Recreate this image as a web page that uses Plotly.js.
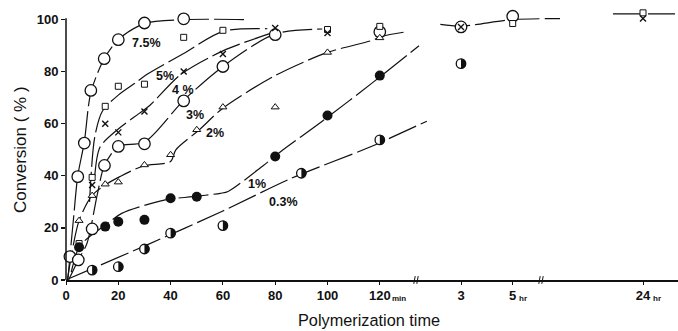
<!DOCTYPE html>
<html><head><meta charset="utf-8">
<script src="https://cdn.plot.ly/plotly-3.0.1.min.js"></script>
<style>html,body{margin:0;padding:0;background:#fff}#c{width:678px;height:331px}</style>
</head><body><div id="c"></div>
<script>
// ---- data: minutes segment (time in min, conversion %) ----
const t75 = [1.5, 4.5, 7, 9.5, 14.6, 20, 30, 45];
const c75 = [9, 39.7, 52.6, 72.8, 85, 92.3, 98.7, 100.3];
const t5 = [5, 10, 15, 20, 30, 45, 60, 100, 120];
const c5 = [14, 39.4, 66.7, 74.4, 75.2, 93.2, 95.9, 96.2, 97.4];
const t4 = [10, 15, 20, 30, 45, 60, 80, 100];
const c4 = [36.5, 60, 56.7, 64.7, 80.1, 86.8, 96.8, 94.9];
const t3 = [4.7, 10, 14.7, 20, 30, 45, 60, 80, 120];
const c3 = [7.7, 19.6, 44, 51.3, 52.3, 68.8, 82, 94.2, 95.3];
const t2 = [5, 10, 15, 20, 30, 40, 50, 60, 80, 100, 120];
const c2 = [22.8, 32.4, 36.8, 37.6, 44.2, 48.1, 57.7, 66.4, 66.4, 87.4, 93];
const t1 = [5, 15, 20, 30, 40, 50, 80, 100, 120];
const c1 = [12.6, 20.5, 22.4, 23.1, 31.4, 32, 47.4, 63.2, 78.5];
const t03 = [10, 20, 30, 40, 60, 90, 120];
const c03 = [3.8, 5.1, 11.9, 18, 20.9, 41, 53.8];
// ---- hours segment (time in hr) ----
const h75 = [3, 5], v75h = [97.2, 101.3];
const h5 = [5], v5h = [98.5];
const h4 = [3], v4h = [97.2];
const h03 = [3], v03h = [83.1];
// ---- 24 hr ----
const d5 = [24], v5d = [102.6];
const d4 = [24], v4d = [100.4];
// ---- drawn curves ----
const k75x = [0.7, 1.5, 3, 4.5, 7, 9.5, 14.6, 20, 30, 45, 69];
const k75y = [0, 9, 25, 40, 53, 72, 85, 92.3, 98.5, 100, 100];
const k5x = [9, 11, 14, 20, 27, 31, 45, 60, 77];
const k5y = [30, 55, 65, 71, 76, 79, 87, 95.5, 96.5];
const k4x = [11, 13, 20, 28, 32, 44, 60, 79];
const k4y = [40, 51, 58, 64, 67, 79, 88, 95];
const k3x = [1, 4.7, 8, 12, 14.7, 20, 30, 45, 60, 80, 98];
const k3y = [0, 7.7, 14, 33, 44, 51.3, 53, 69, 82, 94.5, 96.4];
const k2x = [0.5, 5, 10, 15, 20.6, 29.6, 40, 42, 51, 60, 80, 100, 117, 121, 130];
const k2y = [0, 22.8, 32.5, 36.5, 39.7, 43.8, 45.5, 50, 57.7, 66, 78.5, 87.4, 92, 93.6, 95.3];
const k1x = [2, 5, 10, 15, 21.3, 38, 48.5, 59, 62, 75.5, 83, 98, 117.5, 135];
const k1y = [3, 12.6, 17.5, 21, 25.6, 30.8, 32, 33.3, 34, 44, 50, 61, 76, 90];
const k03x = [1, 31, 60, 86, 116, 138];
const k03y = [0.5, 13.5, 26.5, 39, 51, 61];
const kHx = [2.2, 3, 5, 6.9], kHy = [98.2, 97.5, 100, 100.4];
const kDx = [18, 30.4], kDy = [102.2, 102.2];
// ---- labels ----
const lblText = ['7.5%', '5%', '4 %', '3%', '2%', '1%', '0.3%'];
const lblX = [30.9, 37.9, 44.9, 49.3, 57, 72.9, 83.1];
const lblY = [91, 78.5, 73.1, 63.5, 56.4, 36.9, 30.1];
const yTicks = [0, 20, 40, 60, 80, 100];
const minTicks = [0, 20, 40, 60, 80, 100, 120];
const hrTicks = [3, 5];
const dayTicks = [24];

const K = '#111';
const traces = [];
const shapes = [];
function curve(x, y, ax) {
  traces.push({x, y, xaxis: ax, yaxis: 'y', mode: 'lines', hoverinfo: 'skip',
    line: {color: K, width: 1.2, shape: 'spline', smoothing: 0.8, dash: '30px,5px'}});
}
const MK = {
  open: {symbol: 'circle', size: 11.5, color: '#fff', line: {color: K, width: 1.3}},
  fill: {symbol: 'circle', size: 10, color: K, line: {color: K, width: 0}},
  sq: {symbol: 'square', size: 6, color: '#fff', line: {color: K, width: 1}},
  x: {symbol: 'x-thin', size: 6, color: K, line: {color: K, width: 1.4}},
  tri: {symbol: 'triangle-up', size: 7, color: '#fff', line: {color: K, width: 1}},
  halfBase: {symbol: 'circle', size: 9.5, color: '#fff', line: {color: K, width: 1.3}}
};
function pts(x, y, ax, m) {
  traces.push({x, y, xaxis: ax, yaxis: 'y', mode: 'markers', cliponaxis: false,
    hoverinfo: 'skip', marker: MK[m]});
}
// half-filled circle: white circle marker + right half filled, anchored at the data point
const R = 4.9, Q = R * 0.5523;
const halfPath = `M0,${-R} C${Q},${-R} ${R},${-Q} ${R},0 C${R},${Q} ${Q},${R} 0,${R} Z`;
function half(x, y, ax) {
  pts(x, y, ax, 'halfBase');
  x.forEach((xv, i) => shapes.push({type: 'path', xref: ax, yref: 'y',
    xsizemode: 'pixel', ysizemode: 'pixel', xanchor: xv, yanchor: y[i],
    path: halfPath, fillcolor: K, line: {width: 0}, layer: 'above'}));
}
[[k75x, k75y], [k5x, k5y], [k4x, k4y], [k3x, k3y], [k2x, k2y], [k1x, k1y], [k03x, k03y]]
  .forEach(([x, y]) => curve(x, y, 'x'));
curve(kHx, kHy, 'x2');
curve(kDx, kDy, 'x3');

pts(t75, c75, 'x', 'open');
pts(t3, c3, 'x', 'open');
pts(t5, c5, 'x', 'sq');
pts(t4, c4, 'x', 'x');
pts(t2, c2, 'x', 'tri');
pts(t1, c1, 'x', 'fill');
half(t03, c03, 'x');
pts(h75, v75h, 'x2', 'open');
pts(h5, v5h, 'x2', 'sq');
pts(h4, v4h, 'x2', 'x');
half(h03, v03h, 'x2');
pts(d5, v5d, 'x3', 'sq');
pts(d4, v4d, 'x3', 'x');

const W = 612, L = 66;
const px = p => (p - L) / W;
const tickFont = {family: 'Liberation Sans', size: 13, color: K, weight: 'bold'};
const xbase = {showgrid: false, zeroline: false, showline: true, linecolor: K, linewidth: 1.5,
  ticks: 'outside', ticklen: 3, tickcolor: K, tickfont: tickFont, anchor: 'y', fixedrange: true};

const annotations = lblText.map((t, i) => ({x: lblX[i], y: lblY[i], xref: 'x', yref: 'y', text: t,
  showarrow: false, xanchor: 'center', yanchor: 'middle',
  font: {family: 'Liberation Sans', size: 12.5, color: K, weight: 'bold'}}));
const sfx = {family: 'Liberation Sans', size: 8, color: K, weight: 'bold'};
annotations.push({x: 120, y: 0, xref: 'x', yref: 'y', text: 'min', showarrow: false, xanchor: 'left',
  yanchor: 'top', xshift: 10, yshift: -12, font: sfx});
annotations.push({x: 5, y: 0, xref: 'x2', yref: 'y', text: 'hr', showarrow: false, xanchor: 'left',
  yanchor: 'top', xshift: 4, yshift: -12, font: sfx});
annotations.push({x: 24, y: 0, xref: 'x3', yref: 'y', text: 'hr', showarrow: false, xanchor: 'left',
  yanchor: 'top', xshift: 8, yshift: -12, font: sfx});
annotations.push({x: px(369), y: (280 - 320) / 276, xref: 'paper', yref: 'paper',
  xanchor: 'center', yanchor: 'middle',
  text: 'Polymerization time', showarrow: false, font: {family: 'Liberation Sans', size: 16.3, color: K}});
annotations.push({x: px(20), y: (280 - 150) / 276, xref: 'paper', yref: 'paper', textangle: -90,
  xanchor: 'center', yanchor: 'middle',
  text: 'Conversion ( % )', showarrow: false, font: {family: 'Liberation Sans', size: 17, color: K}});

shapes.push({type: 'line', xref: 'paper', yref: 'y', x0: 0, x1: 0, y0: 0, y1: 100.5,
  line: {color: K, width: 1.5}});
[416, 541].forEach(b => {
  [-1.5, 1.5].forEach(o => shapes.push({type: 'line', xref: 'paper', yref: 'paper',
    x0: px(b + o - 0.7), x1: px(b + o + 0.7), y0: -0.014, y1: 0.014, line: {color: K, width: 1}}));
});

const layout = {
  width: 678, height: 331, margin: {l: L, r: 0, t: 4, b: 51},
  paper_bgcolor: '#fff', plot_bgcolor: '#fff', showlegend: false,
  xaxis: Object.assign({}, xbase, {domain: [0, px(432)], range: [0, (432 - L) / 2.615],
    tickmode: 'array', tickvals: minTicks, ticktext: minTicks.map(String)}),
  xaxis2: Object.assign({}, xbase, {domain: [px(432), px(560)],
    range: [3 + (432 - 461) / 25.85, 3 + (560 - 461) / 25.85],
    tickmode: 'array', tickvals: hrTicks, ticktext: hrTicks.map(String)}),
  xaxis3: Object.assign({}, xbase, {domain: [px(560), 1], range: [24 - 83 / 5, 24 + 35 / 5],
    tickmode: 'array', tickvals: dayTicks, ticktext: dayTicks.map(String)}),
  yaxis: {range: [0, 106], showgrid: false, zeroline: false, showline: false, ticks: 'outside',
    ticklen: 4, tickcolor: K, tickwidth: 1.2, tickvals: yTicks, ticktext: yTicks.map(String),
    tickfont: tickFont, anchor: 'x', fixedrange: true},
  annotations, shapes
};
Plotly.newPlot('c', traces, layout, {staticPlot: true, displayModeBar: false});
</script></body></html>
